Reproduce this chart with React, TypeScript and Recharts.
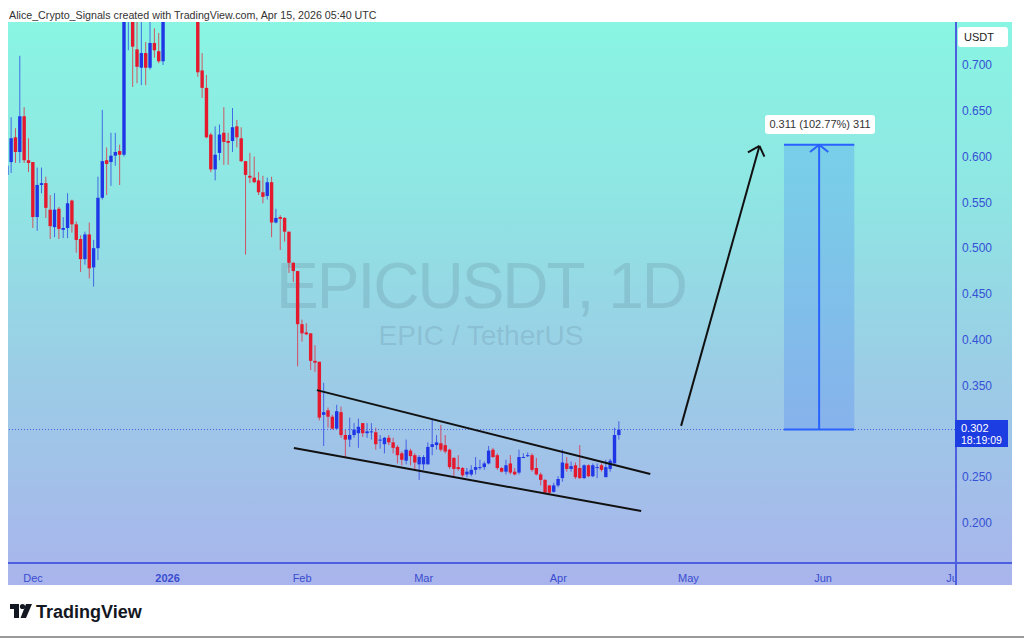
import React from "react";
import { Bar, ComposedChart, ReferenceArea, ReferenceLine, XAxis, YAxis } from "recharts";

// day 0 = Dec 1 2025, first candle is Nov 25
const FIRST_DAY = -6;

const opens = [
  0.58, 0.594, 0.621, 0.605, 0.644, 0.596, 0.594, 0.534, 0.569, 0.571,
  0.542, 0.523, 0.543, 0.52, 0.522, 0.552, 0.526, 0.51, 0.488, 0.515,
  0.479, 0.5, 0.555, 0.596, 0.594, 0.601, 0.606, 0.602, 0.8, 0.84,
  0.717, 0.697, 0.713, 0.697, 0.724, 0.715, 0.704, 0.78, 0.84, 0.82,
  0.9, 0.87, 0.84, 0.81, 0.79, 0.694, 0.675, 0.624, 0.586, 0.604,
  0.626, 0.617, 0.617, 0.633, 0.62, 0.595, 0.579, 0.577, 0.574, 0.561,
  0.557, 0.572, 0.528, 0.534, 0.533, 0.518, 0.484, 0.475, 0.417, 0.408,
  0.407, 0.377, 0.376, 0.318, 0.323, 0.316, 0.303, 0.321, 0.296, 0.291,
  0.296, 0.298, 0.309, 0.298, 0.299, 0.299, 0.29, 0.286, 0.293, 0.288,
  0.283, 0.276, 0.268, 0.279, 0.274, 0.264, 0.264, 0.264, 0.283, 0.285,
  0.287, 0.285, 0.28, 0.271, 0.261, 0.26, 0.253, 0.253, 0.258, 0.26,
  0.261, 0.265, 0.28, 0.274, 0.26, 0.256, 0.265, 0.256, 0.255, 0.271,
  0.273, 0.274, 0.26, 0.253, 0.247, 0.241, 0.234, 0.241, 0.249, 0.265,
  0.259, 0.263, 0.26, 0.249, 0.263, 0.251, 0.26, 0.263, 0.25, 0.259,
  0.265, 0.296
];
const highs = [
  0.593, 0.643, 0.631, 0.71, 0.654, 0.62, 0.594, 0.588, 0.588, 0.578,
  0.558, 0.56, 0.545, 0.534, 0.56, 0.553, 0.529, 0.514, 0.518, 0.528,
  0.509, 0.578, 0.651, 0.61, 0.626, 0.626, 0.613, 0.82, 0.87, 0.86,
  0.76, 0.76, 0.725, 0.76, 0.74, 0.735, 0.8, 0.86, 0.88, 0.93,
  0.95, 0.9, 0.88, 0.85, 0.8, 0.713, 0.689, 0.626, 0.633, 0.635,
  0.654, 0.626, 0.653, 0.64, 0.632, 0.595, 0.604, 0.6, 0.583, 0.579,
  0.577, 0.578, 0.543, 0.536, 0.534, 0.518, 0.485, 0.475, 0.422, 0.418,
  0.407, 0.394, 0.376, 0.353, 0.326, 0.318, 0.329, 0.327, 0.302, 0.315,
  0.309, 0.314, 0.309, 0.309, 0.309, 0.304, 0.296, 0.294, 0.296, 0.293,
  0.285, 0.278, 0.291, 0.281, 0.276, 0.274, 0.274, 0.288, 0.313, 0.296,
  0.307, 0.296, 0.281, 0.272, 0.274, 0.261, 0.26, 0.263, 0.272, 0.269,
  0.267, 0.284, 0.282, 0.276, 0.261, 0.269, 0.274, 0.26, 0.28, 0.276,
  0.277, 0.276, 0.271, 0.255, 0.248, 0.241, 0.244, 0.251, 0.28, 0.272,
  0.267, 0.266, 0.285, 0.264, 0.264, 0.265, 0.265, 0.265, 0.269, 0.27,
  0.304, 0.311
];
const lows = [
  0.578, 0.582, 0.593, 0.593, 0.593, 0.583, 0.522, 0.519, 0.56, 0.533,
  0.51, 0.512, 0.51, 0.511, 0.511, 0.517, 0.495, 0.474, 0.482, 0.467,
  0.458, 0.487, 0.553, 0.558, 0.568, 0.59, 0.569, 0.6, 0.716, 0.676,
  0.68, 0.678, 0.678, 0.695, 0.708, 0.702, 0.7, 0.77, 0.8, 0.81,
  0.85, 0.82, 0.79, 0.77, 0.687, 0.664, 0.62, 0.583, 0.574, 0.596,
  0.591, 0.591, 0.605, 0.61, 0.594, 0.493, 0.571, 0.571, 0.558, 0.549,
  0.553, 0.512, 0.527, 0.498, 0.507, 0.473, 0.463, 0.371, 0.398, 0.405,
  0.367, 0.365, 0.312, 0.284, 0.304, 0.302, 0.302, 0.293, 0.272, 0.283,
  0.293, 0.282, 0.294, 0.293, 0.291, 0.28, 0.281, 0.276, 0.285, 0.276,
  0.265, 0.263, 0.264, 0.263, 0.259, 0.247, 0.258, 0.264, 0.274, 0.28,
  0.278, 0.276, 0.259, 0.25, 0.257, 0.25, 0.25, 0.251, 0.253, 0.258,
  0.258, 0.264, 0.271, 0.258, 0.255, 0.253, 0.253, 0.252, 0.253, 0.271,
  0.272, 0.256, 0.252, 0.241, 0.232, 0.231, 0.233, 0.239, 0.245, 0.256,
  0.256, 0.248, 0.248, 0.248, 0.25, 0.25, 0.249, 0.256, 0.25, 0.256,
  0.265, 0.291
];
const closes = [
  0.59, 0.62, 0.605, 0.644, 0.596, 0.593, 0.534, 0.569, 0.571, 0.544,
  0.524, 0.542, 0.521, 0.522, 0.549, 0.526, 0.509, 0.488, 0.515, 0.478,
  0.5, 0.555, 0.595, 0.592, 0.601, 0.605, 0.602, 0.8, 0.84, 0.72,
  0.698, 0.713, 0.697, 0.724, 0.716, 0.704, 0.78, 0.84, 0.82, 0.9,
  0.87, 0.84, 0.81, 0.79, 0.692, 0.675, 0.621, 0.586, 0.602, 0.624,
  0.616, 0.615, 0.632, 0.621, 0.595, 0.58, 0.577, 0.572, 0.561, 0.556,
  0.572, 0.528, 0.533, 0.532, 0.518, 0.484, 0.475, 0.417, 0.407, 0.406,
  0.377, 0.375, 0.315, 0.321, 0.316, 0.303, 0.322, 0.296, 0.291, 0.296,
  0.302, 0.305, 0.298, 0.3, 0.3, 0.286, 0.291, 0.293, 0.288, 0.282,
  0.274, 0.269, 0.28, 0.273, 0.266, 0.272, 0.272, 0.283, 0.286, 0.288,
  0.28, 0.278, 0.261, 0.259, 0.259, 0.252, 0.256, 0.258, 0.261, 0.261,
  0.265, 0.279, 0.272, 0.26, 0.256, 0.263, 0.255, 0.253, 0.272, 0.272,
  0.274, 0.258, 0.253, 0.247, 0.233, 0.233, 0.241, 0.248, 0.266, 0.259,
  0.262, 0.25, 0.249, 0.263, 0.251, 0.263, 0.261, 0.258, 0.261, 0.268,
  0.296, 0.302
];

const monthTicks = [0, 31, 62, 90, 121, 151, 182, 212];
const monthLabels = ["Dec", "2026", "Feb", "Mar", "Apr", "May", "Jun", "Jul"];
// 0.300 is covered by the last-price tag on the scale
const priceTicks = [0.2, 0.25, 0.35, 0.4, 0.45, 0.5, 0.55, 0.6, 0.65, 0.7];

const lastPrice = 0.302;
const targetPrice = 0.613;

// drawings (day, price)
const wedgeTop = [{ x: 65.4, y: 0.345 }, { x: 142.2, y: 0.2535 }];
const wedgeBottom = [{ x: 60.1, y: 0.2819 }, { x: 140.1, y: 0.2131 }];
const bigArrow = [{ x: 149.3, y: 0.306 }, { x: 167.35, y: 0.6116 }];
const bigArrowArms = [{ x: 164.7, y: 0.6047 }, { x: 168.5, y: 0.5999 }];
const rangeX = [173, 189.2];

const UP = "#1f36e6";
const DOWN = "#e5192d";
const AXIS_BLUE = "#4d5fde";

const candles = opens.map((o, i) => ({
  day: FIRST_DAY + i,
  open: o,
  high: highs[i],
  low: lows[i],
  close: closes[i],
  range: [lows[i], highs[i]]
}));

const Candle = (props: any) => {
  const { x, y, width, height, payload } = props;
  const { open, close, high, low } = payload;
  const cx = x + width / 2;
  const span = high - low;
  const toY = (v: number) => (span === 0 ? y : y + ((high - v) / span) * height);
  const color = close >= open ? UP : DOWN;
  const top = toY(Math.max(open, close));
  const bot = toY(Math.min(open, close));
  return (
    <g>
      <line x1={cx} x2={cx} y1={y} y2={y + height} stroke={color} strokeOpacity={0.7} strokeWidth={1} />
      <rect x={cx - 1.7} y={top} width={3.4} height={Math.max(bot - top, 1)} fill={color} />
    </g>
  );
};

const PLOT_RIGHT = 947;

const MonthTick = (props: any) => {
  const { x, y, payload } = props;
  const label = monthLabels[monthTicks.indexOf(payload.value)];
  const bold = label === "2026";
  return (
    <svg x={x - 30} y={y} width={Math.max(0, PLOT_RIGHT - (x - 30))} height={22} overflow="hidden">
      <text
        x={30}
        y={17}
        textAnchor="middle"
        fill="#3a4ccf"
        fontSize={11}
        fontWeight={bold ? 700 : 400}
        fontFamily="Liberation Sans, Arial, sans-serif"
      >
        {label}
      </text>
    </svg>
  );
};

const seg = (a: { x: number; y: number }, b: { x: number; y: number }) => [a, b] as any;

export default function App() {
  const mid = (rangeX[0] + rangeX[1]) / 2;
  return (
    <div style={{ position: "absolute", left: 0, top: 0, width: 1024, height: 638, background: "#fff", overflow: "hidden", fontFamily: "Liberation Sans, Arial, sans-serif" }}>
      <div style={{ position: "absolute", left: 9, top: 8, fontSize: 10.7, lineHeight: "14px", color: "#333" }}>
        Alice_Crypto_Signals created with TradingView.com, Apr 15, 2026 05:40 UTC
      </div>

      <div
        style={{
          position: "absolute",
          left: 8,
          top: 22,
          width: 1004,
          height: 563,
          background: "linear-gradient(180deg, #89f5e3 0%, #8fe6e3 30%, #9bcde6 62%, #a9b4ec 100%)"
        }}
      />
      <svg style={{ position: "absolute", left: 0, top: 0 }} width={1024} height={638}>
        <text x={481} y={308} textAnchor="middle" fontSize={64} letterSpacing={-2} fill="rgba(70,95,115,0.17)" fontFamily="Liberation Sans, Arial, sans-serif">
          EPICUSDT, 1D
        </text>
        <text x={481} y={345} textAnchor="middle" fontSize={28} fill="rgba(70,95,115,0.17)" fontFamily="Liberation Sans, Arial, sans-serif">
          EPIC / TetherUS
        </text>
      </svg>

      <div style={{ position: "absolute", left: 8, top: 22 }}>
        <ComposedChart width={1004} height={563} data={candles} margin={{ top: 0, right: 0, bottom: 0, left: 0 }}>
          <XAxis
            type="number"
            dataKey="day"
            domain={[-5.76, 212.4]}
            allowDataOverflow
            ticks={monthTicks}
            interval={0}
            tick={<MonthTick />}
            tickLine={false}
            axisLine={false}
            tickSize={0}
            height={22}
          />
          <YAxis
            orientation="right"
            type="number"
            domain={[0.1563, 0.7469]}
            allowDataOverflow
            ticks={priceTicks}
            tickFormatter={(v: number) => v.toFixed(3)}
            tick={{ fill: "#3550d4", fontSize: 12, fontFamily: "Liberation Sans, Arial, sans-serif" }}
            tickLine={false}
            axisLine={false}
            tickSize={0}
            tickMargin={7}
            width={57}
          />
          <ReferenceLine y={lastPrice} stroke="#4a5de0" strokeDasharray="1 2" strokeWidth={1} />
          <Bar dataKey="range" barSize={4} shape={<Candle />} isAnimationActive={false} />

          <ReferenceLine segment={seg(wedgeTop[0], wedgeTop[1])} stroke="#111" strokeWidth={2} ifOverflow="visible" />
          <ReferenceLine segment={seg(wedgeBottom[0], wedgeBottom[1])} stroke="#111" strokeWidth={2} ifOverflow="visible" />
          <ReferenceLine segment={seg(bigArrow[0], bigArrow[1])} stroke="#111" strokeWidth={2} ifOverflow="visible" />
          <ReferenceLine segment={seg(bigArrowArms[0], bigArrow[1])} stroke="#111" strokeWidth={2} ifOverflow="visible" />
          <ReferenceLine segment={seg(bigArrowArms[1], bigArrow[1])} stroke="#111" strokeWidth={2} ifOverflow="visible" />

          <ReferenceArea x1={rangeX[0]} x2={rangeX[1]} y1={lastPrice} y2={targetPrice} fill="#2962ff" fillOpacity={0.2} stroke="none" />
          <ReferenceLine segment={seg({ x: rangeX[0], y: targetPrice }, { x: rangeX[1], y: targetPrice })} stroke="#2962ff" strokeWidth={2} ifOverflow="visible" />
          <ReferenceLine segment={seg({ x: rangeX[0], y: lastPrice }, { x: rangeX[1], y: lastPrice })} stroke="#2962ff" strokeWidth={2} ifOverflow="visible" />
          <ReferenceLine segment={seg({ x: mid, y: lastPrice }, { x: mid, y: targetPrice })} stroke="#2962ff" strokeWidth={2} ifOverflow="visible" />
          <ReferenceLine segment={seg({ x: mid - 2.1, y: targetPrice - 0.008 }, { x: mid, y: targetPrice })} stroke="#2962ff" strokeWidth={2} ifOverflow="visible" />
          <ReferenceLine segment={seg({ x: mid + 2.1, y: targetPrice - 0.008 }, { x: mid, y: targetPrice })} stroke="#2962ff" strokeWidth={2} ifOverflow="visible" />
        </ComposedChart>
      </div>

      {/* axes frame */}
      <div style={{ position: "absolute", left: 955, top: 22, width: 1.5, height: 563, background: AXIS_BLUE }} />
      <div style={{ position: "absolute", left: 8, top: 562, width: 1004, height: 2, background: AXIS_BLUE }} />

      <div style={{ position: "absolute", left: 958, top: 27, width: 50, height: 20, background: "#fff", borderRadius: 3, fontSize: 11, lineHeight: "20px", color: "#222", paddingLeft: 6, boxSizing: "border-box" }}>
        USDT
      </div>
      <div style={{ position: "absolute", left: 955, top: 420, width: 53, height: 27, background: "#1c3de2" }}>
        <div style={{ position: "absolute", left: 6, top: 2, fontSize: 11, lineHeight: "12px", color: "#fff" }}>0.302</div>
        <div style={{ position: "absolute", left: 6, top: 14, fontSize: 10.5, lineHeight: "12px", color: "#fff" }}>18:19:09</div>
      </div>
      <div style={{ position: "absolute", left: 765, top: 115, width: 110, height: 19, background: "#fff", borderRadius: 3, fontSize: 11, lineHeight: "19px", color: "#333", textAlign: "center" }}>
        0.311 (102.77%) 311
      </div>

      <svg style={{ position: "absolute", left: 0, top: 596 }} width={200} height={30}>
        <rect x={10} y={8} width={9} height={5} fill="#131722" />
        <rect x={14} y={8} width={5} height={14} fill="#131722" />
        <circle cx={22.5} cy={10.5} r={2.6} fill="#131722" />
        <polygon points="26,8 32,8 26,22 20.5,22" fill="#131722" />
        <text x={36} y={22} fontSize={18} fontWeight={700} fill="#131722" fontFamily="Liberation Sans, Arial, sans-serif">
          TradingView
        </text>
      </svg>
      <div style={{ position: "absolute", left: 0, top: 636, width: 1024, height: 2, background: "#9a9a9a" }} />
    </div>
  );
}
